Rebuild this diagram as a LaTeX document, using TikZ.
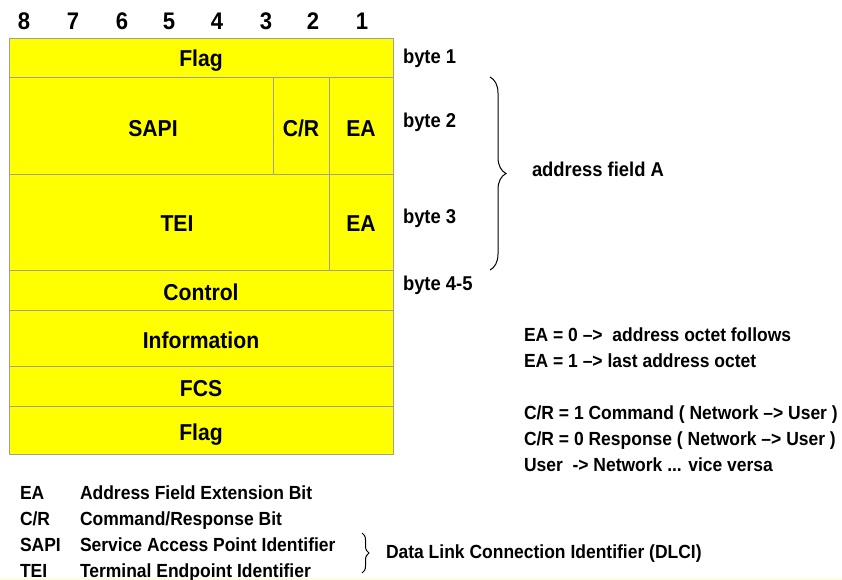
\documentclass[tikz,border=0pt]{standalone}
\usepackage{fontspec}
\setmainfont{Liberation Sans}[FakeStretch=0.92]
\usetikzlibrary{decorations.pathreplacing}

\begin{document}
\begin{tikzpicture}[x=1pt,y=-1pt]
\definecolor{fillColor}{RGB}{255,255,0}
\definecolor{drawColor}{RGB}{160,160,150}
\definecolor{textColor}{RGB}{0,0,0}
\definecolor{edgeColor}{RGB}{255,255,200}
\tikzset{
  field/.style={draw=drawColor,line width=1pt,fill=fillColor},
  lbl/.style={text=textColor,inner sep=0pt,outer sep=0pt,font=\bfseries},
  bitlbl/.style={lbl,anchor=base,font=\bfseries\fontsize{24}{28}\selectfont},
  boxlbl/.style={lbl,anchor=base,font=\bfseries\fontsize{23}{27}\selectfont},
  sidelbl/.style={lbl,anchor=base west,font=\bfseries\fontsize{20}{24}\selectfont},
  notelbl/.style={lbl,anchor=base west,font=\bfseries\fontsize{19}{23}\selectfont},
  bracket/.style={draw=textColor,line width=1pt,decorate}
}
\path[use as bounding box,fill=white] (0,0) rectangle (842,580);
\path[fill=edgeColor] (0,578.5) rectangle (842,580);

% bit numbers
\foreach \b/\x in {8/24,7/73,6/122,5/169,4/217,3/266,2/313,1/362}
  \node[bitlbl] (bit\b) at (\x,29.3) {\b};

% frame fields
\path[field] (9.5, 39) rectangle (393, 78);
\path[field] (9.5, 78) rectangle (273,174);
\path[field] (273, 78) rectangle (329,174);
\path[field] (329, 78) rectangle (393,174);
\path[field] (9.5,174) rectangle (329,270);
\path[field] (329,174) rectangle (393,270);
\path[field] (9.5,270) rectangle (393,310);
\path[field] (9.5,310) rectangle (393,366);
\path[field] (9.5,366) rectangle (393,406);
\path[field] (9.5,406) rectangle (393,454);

\node[boxlbl] (flagA) at (201, 66.8) {Flag};
\node[boxlbl] (sapi)  at (153,137) {SAPI};
\node[boxlbl] (cr)    at (301,137) {C/R};
\node[boxlbl] (eaA)   at (361,137) {EA};
\node[boxlbl] (tei)   at (177,231) {TEI};
\node[boxlbl] (eaB)   at (361,231) {EA};
\node[boxlbl] (ctrl)  at (201,300) {Control};
\node[boxlbl] (info)  at (201,348.3) {Information};
\node[boxlbl] (fcs)   at (201,396.7) {FCS};
\node[boxlbl] (flagB) at (201,440) {Flag};

% byte labels
\node[sidelbl] (byteA) at (403, 64) {byte 1};
\node[sidelbl] (byteB) at (403,128) {byte 2};
\node[sidelbl] (byteC) at (403,223) {byte 3};
\node[sidelbl] (byteD) at (403,290) {byte 4-5};

\coordinate (addrTop) at (490,77);
\coordinate (addrBot) at (490,270);
\path[bracket,decoration={brace,amplitude=16pt}] (addrTop) -- (addrBot);
\node[sidelbl] (addr) at (532,176) {address field A};

% notes
\node[notelbl] (noteA) at (524,341) {EA = 0 --{}>\ \ address octet follows};
\node[notelbl] (noteB) at (524,367) {EA = 1 --{}> last address octet};
\node[notelbl] (noteC) at (524,419) {C/R = 1 Command ( Network --{}> User )};
\node[notelbl] (noteD) at (524,445) {C/R = 0 Response ( Network --{}> User )};
\node[notelbl] (noteE) at (524,471) {User\ \ -{}> Network ... vice versa};

% legend
\foreach \k/\a/\t/\y in {1/EA/Address Field Extension Bit/499,
                         2/C\slash R/Command\slash Response Bit/525,
                         3/SAPI/Service Access Point Identifier/551,
                         4/TEI/Terminal Endpoint Identifier/577}{
  \node[notelbl] (abbr\k) at (20,\y) {\a};
  \node[notelbl] (desc\k) at (80,\y) {\t};
}

\coordinate (dlciTop) at (362,533);
\coordinate (dlciBot) at (362,573);
\path[bracket,decoration={brace,amplitude=7pt}] (dlciTop) -- (dlciBot);
\node[notelbl] (dlci) at (386,558) {Data Link Connection Identifier (DLCI)};
\end{tikzpicture}
\end{document}
